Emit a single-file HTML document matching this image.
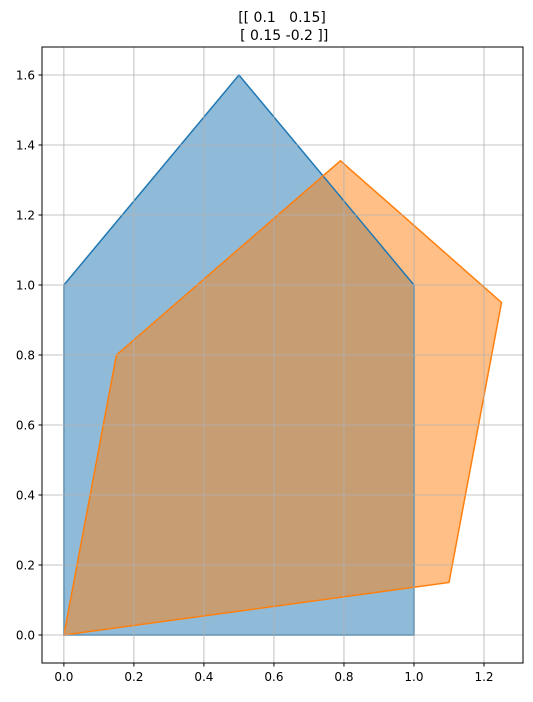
<!DOCTYPE html>
<html><head><meta charset="utf-8"><style>
body{margin:0;background:#fff;width:533px;height:697px;overflow:hidden}
svg text{font-family:"DejaVu Sans","Liberation Sans",sans-serif}
</style></head><body>
<svg id="chart" width="533" height="697" xmlns="http://www.w3.org/2000/svg">
<text x="282" y="22" font-size="14" text-anchor="middle" xml:space="preserve">[[ 0.1   0.15]</text>
<text x="282" y="40" font-size="14" text-anchor="middle" xml:space="preserve"> [ 0.15 -0.2 ]]</text>
<g id="fills"></g>
<g id="edges"></g>
<g id="grid"></g>
<rect x="42" y="47" width="481" height="616" fill="none" stroke="#000" stroke-width="1"/>
<g id="ticks"></g>
</svg>
<script>
const xTicks=[0,0.2,0.4,0.6,0.8,1.0,1.2];
const yTicks=[0,0.2,0.4,0.6,0.8,1.0,1.2,1.4,1.6];
const originalX=[0,1,1,0.5,0];
const originalY=[0,0,1,1.6,1];
const transformedX=[0,1.1,1.25,0.79,0.15];
const transformedY=[0,0.15,0.95,1.355,0.8];
const X0=-0.0625,X1=1.3114,Y0=-0.08,Y1=1.68;
const L=42,R=523,T=47,B=663;
const sx=v=>L+(v-X0)/(X1-X0)*(R-L);
const sy=v=>B-(v-Y0)/(Y1-Y0)*(B-T);
const NS='http://www.w3.org/2000/svg';
function mk(t,a,p){const e=document.createElementNS(NS,t);for(const k in a)e.setAttribute(k,a[k]);p.appendChild(e);return e;}
const grid=document.getElementById('grid'),ticks=document.getElementById('ticks'),fills=document.getElementById('fills'),edges=document.getElementById('edges');
xTicks.forEach(v=>{const x=sx(v);
 const g=mk('line',{x1:x,x2:x,y1:T,y2:B,stroke:'#b0b0b0','stroke-width':0.8},grid);
 
 
 const t=mk('line',{x1:x,x2:x,y1:B,y2:B+3.5,stroke:'#000'},ticks);
 
 
 const l=mk('text',{x:x,y:B+18,'font-size':12,'text-anchor':'middle'},ticks);l.textContent=v.toFixed(1);
 
 
});
yTicks.forEach(v=>{const y=sy(v);
 const g=mk('line',{x1:L,x2:R,y1:y,y2:y,stroke:'#b0b0b0','stroke-width':0.8},grid);
 
 
 const t=mk('line',{x1:L-3.5,x2:L,y1:y,y2:y,stroke:'#000'},ticks);
 
 
 const l=mk('text',{x:L-7,y:y+4.5,'font-size':12,'text-anchor':'end'},ticks);l.textContent=v.toFixed(1);
 
 
});
function poly(xs,ys,color,name){
 const pts=xs.map((x,i)=>sx(x)+','+sy(ys[i])).join(' ');
 const f=mk('polygon',{points:pts,fill:color,'fill-opacity':0.5,stroke:'none'},fills);
 
 
 const e=mk('polygon',{points:pts,fill:'none',stroke:color,'stroke-width':1.5},edges);
 
 
}
poly(originalX,originalY,'#1f77b4','original-polygon');
poly(transformedX,transformedY,'#ff7f0e','transformed-polygon');
</script>
</body></html>
